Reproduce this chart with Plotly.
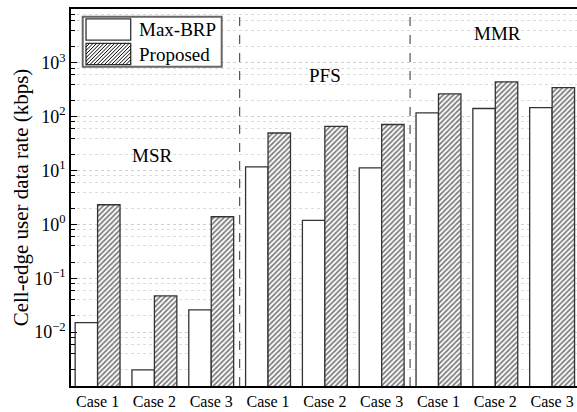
import plotly.graph_objects as go

# ---- data ----
case_labels = ["Case 1", "Case 2", "Case 3", "Case 1", "Case 2", "Case 3", "Case 1", "Case 2", "Case 3"]
schemes = ["MSR", "PFS", "MMR"]
max_brp = [0.015, 0.002, 0.026, 11.7, 1.19, 11.2, 118, 142, 148]
proposed = [2.32, 0.047, 1.39, 49.8, 65.9, 71.7, 265, 442, 347]
series_names = ["Max-BRP", "Proposed"]
y_decades = [-2, -1, 0, 1, 2, 3]
minor_decades = [-3, -2, -1, 0, 1, 2, 3]

W, H = 577, 412
ML, MR, MT, MB = 71, 0, 9, 26
PW, PH = W - ML - MR, H - MT - MB
FONT = "Liberation Serif"


def px(x):
    return (x - ML) / PW


def py(y):
    return 1 - (y - MT) / PH


def sup(d):
    return "10<sup>" + ("\u2212" if d < 0 else "") + str(abs(d)) + "</sup>"


xpos = list(range(len(case_labels)))

fig = go.Figure()
fig.add_trace(go.Bar(
    x=xpos, y=max_brp, name=series_names[0], showlegend=False,
    marker=dict(color="white", line=dict(color="#333", width=1.3)),
))
fig.add_trace(go.Bar(
    x=xpos, y=proposed, name=series_names[1], showlegend=False,
    marker=dict(color="white", line=dict(color="#333", width=1.3),
                pattern=dict(shape="/", size=3.6, solidity=0.5,
                             fgcolor="#000", bgcolor="white", fillmode="overlay")),
))

minor_vals = [m * 10 ** d for d in minor_decades for m in (2, 4, 6, 8)]

fig.update_layout(
    width=W, height=H,
    margin=dict(l=ML, r=MR, t=MT, b=MB, autoexpand=False),
    paper_bgcolor="white", plot_bgcolor="white",
    font=dict(family=FONT, size=16, color="black"),
    barmode="group", bargap=0.21, bargroupgap=0,
    showlegend=False,
    xaxis=dict(
        range=[-0.468, 8.438], tickmode="array", tickvals=xpos, ticktext=case_labels,
        showgrid=False, zeroline=False, showline=True, linecolor="black",
        linewidth=1.5, mirror=True, ticks="", tickfont=dict(size=16, family=FONT),
        automargin=False,
    ),
    yaxis=dict(
        type="log", range=[-3, 4], showline=True, linecolor="black", linewidth=1.5,
        mirror=False, ticks="inside", ticklen=6, tickwidth=1.3, tickcolor="black",
        tickmode="array", tickvals=[10 ** d for d in y_decades],
        ticktext=[sup(d) for d in y_decades],
        showgrid=True, gridcolor="#cfcfcf", griddash="dot", gridwidth=1,
        zeroline=False, tickfont=dict(size=18, family=FONT), automargin=False,
        title=dict(text="Cell-edge user data rate (kbps)", font=dict(size=21, family=FONT), standoff=0),
        minor=dict(tickmode="array", tickvals=minor_vals, ticks="inside", ticklen=4,
                   tickwidth=1.2, tickcolor="black", showgrid=True,
                   gridcolor="#dcdcdc", griddash="dot", gridwidth=1),
    ),
)

# group separators
for xs in (2.5, 5.5):
    fig.add_shape(type="line", xref="x", yref="paper", x0=xs, x1=xs, y0=0, y1=1,
                  line=dict(color="#555", width=1.2, dash="dash"))

# group labels
for name, (cx, cy) in zip(schemes, [(152, 155), (324.5, 75), (497, 34)]):
    fig.add_annotation(text=name, x=px(cx), y=py(cy), xref="paper", yref="paper",
                       showarrow=False, font=dict(size=19, family=FONT),
                       xanchor="center", yanchor="middle")

# legend (drawn)
bx0, bx1, by0, by1 = 82.7, 221.7, 16.7, 66.7
fig.add_shape(type="rect", xref="paper", yref="paper", x0=px(bx0), x1=px(bx1),
              y0=py(by1), y1=py(by0), line=dict(color="#666", width=2), fillcolor="white")
sw = [(86, 130.7, 18.8, 40.2), (86, 130.7, 43.3, 64.7)]
for i, (x0, x1, y0, y1) in enumerate(sw):
    fig.add_shape(type="rect", xref="paper", yref="paper", x0=px(x0), x1=px(x1),
                  y0=py(y1), y1=py(y0), line=dict(color="#333", width=1.3), fillcolor="white")
    if i == 1:
        segs = []
        c = x0 + y0 + 3.6
        while c < x1 + y1:
            xa = max(x0, c - y1)
            xb = min(x1, c - y0)
            if xb > xa:
                segs.append(f"M{px(xa):.5f},{py(c - xa):.5f}L{px(xb):.5f},{py(c - xb):.5f}")
            c += 3.6
        fig.add_shape(type="path", xref="paper", yref="paper", path="".join(segs),
                      line=dict(color="#000", width=1))
    fig.add_annotation(text=series_names[i], x=px(137), y=py((y0 + y1) / 2),
                       xref="paper", yref="paper", showarrow=False,
                       font=dict(size=19, family=FONT), xanchor="left", yanchor="middle")

fig.write_html("out.html", config={"displayModeBar": False},
               post_script="document.body.style.margin='0';")
